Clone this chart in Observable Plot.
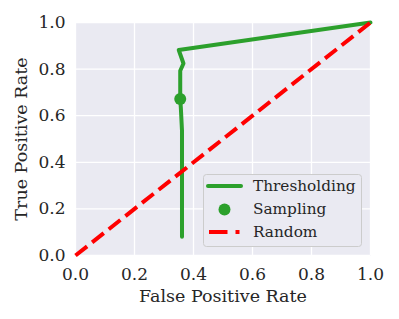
<!DOCTYPE html>
<html>
<head>
<meta charset="utf-8">
<script src="https://cdn.jsdelivr.net/npm/d3@7"></script>
<script src="https://cdn.jsdelivr.net/npm/@observablehq/plot@0.6"></script>
<style>
  body { margin: 0; background: #fff; }
  #chart { position: relative; width: 399px; height: 319px; }
</style>
</head>
<body>
<div id="chart"></div>
<script>
// ROC curve (thresholding)
const fpr = [0.361, 0.361, 0.357, 0.355, 0.355, 0.366, 0.350, 1.0];
const tpr = [0.081, 0.536, 0.636, 0.672, 0.793, 0.824, 0.882, 1.0];
// Sampling point
const sampleFpr = [0.355];
const sampleTpr = [0.672];
// Random baseline
const randFpr = [0, 1];
const randTpr = [0, 1];
const ticks = [0, 0.2, 0.4, 0.6, 0.8, 1.0];
const legendLabels = ["Thresholding", "Sampling", "Random"];

const roc = fpr.map((f, i) => ({x: f, y: tpr[i]}));
const samp = sampleFpr.map((f, i) => ({x: f, y: sampleTpr[i]}));
const rand = randFpr.map((f, i) => ({x: f, y: randTpr[i]}));

const font = "DejaVu Serif";
const plot = Plot.plot({
  width: 399,
  height: 319,
  marginLeft: 75,
  marginRight: 29,
  marginTop: 22,
  marginBottom: 64,
  style: {fontFamily: font, fontSize: "17px", color: "#262626", background: "#fff", overflow: "visible"},
  x: {domain: [0, 1]},
  y: {domain: [0, 1]},
  marks: [
    Plot.frame({fill: "#EAEAF2", stroke: null}),
    Plot.gridX(ticks, {stroke: "white", strokeOpacity: 1, strokeWidth: 1.3}),
    Plot.gridY(ticks, {stroke: "white", strokeOpacity: 1, strokeWidth: 1.3}),
    Plot.axisX(ticks, {tickSize: 0, tickPadding: 12, tickFormat: d3.format(".1f"), fontSize: 17, label: null}),
    Plot.axisX({label: "False Positive Rate", labelAnchor: "center", labelArrow: "none", labelOffset: 46, fontSize: 17.5, ticks: [], tickSize: 0}),
    Plot.axisY(ticks, {tickSize: 0, tickPadding: 10, tickFormat: d3.format(".1f"), fontSize: 17, label: null}),
    Plot.axisY({label: "True Positive Rate", labelAnchor: "center", labelArrow: "none", labelOffset: 61, fontSize: 17.5, ticks: [], tickSize: 0}),
    Plot.line(roc, {x: "x", y: "y", stroke: "#2ca02c", strokeWidth: 4, strokeLinejoin: "round", strokeLinecap: "round", clip: false}),
    Plot.dot(samp, {x: "x", y: "y", r: 6, fill: "#2ca02c", stroke: null}),
    Plot.line(rand, {x: "x", y: "y", stroke: "red", strokeWidth: 4, strokeDasharray: "14.8,6.4", strokeLinecap: "butt"})
  ]
});
document.getElementById("chart").appendChild(plot);

// Legend (inside the axes, lower right)
const svg = d3.select(plot);
const g = svg.append("g").attr("font-family", font).attr("font-size", 15.3)
  .attr("fill", "#262626").attr("text-anchor", "start");
g.append("rect").attr("x", 203.5).attr("y", 174.5).attr("width", 158).attr("height", 72)
  .attr("rx", 3).attr("fill", "#EAEAF2").attr("stroke", "#cccccc").attr("stroke-width", 1);
g.append("line").attr("x1", 208).attr("x2", 241).attr("y1", 186).attr("y2", 186)
  .attr("stroke", "#2ca02c").attr("stroke-width", 4).attr("stroke-linecap", "round");
g.append("circle").attr("cx", 224.5).attr("cy", 209.5).attr("r", 6).attr("fill", "#2ca02c");
g.append("line").attr("x1", 209).attr("x2", 241).attr("y1", 232).attr("y2", 232)
  .attr("stroke", "red").attr("stroke-width", 4).attr("stroke-dasharray", "18.5,8,4,100");
legendLabels.forEach((t, i) => {
  g.append("text").attr("x", 253).attr("y", 186 + i * 23).attr("dy", "0.35em").text(t);
});
</script>
</body>
</html>
